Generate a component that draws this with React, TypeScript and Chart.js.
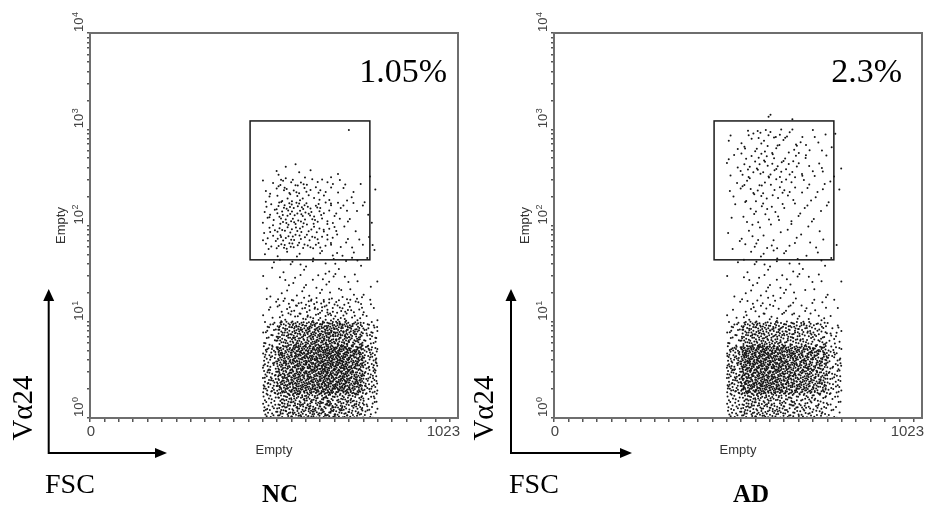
import React, { useEffect, useRef } from "react";
import { Chart, registerables } from "chart.js";

Chart.register(...registerables);

// ---- data ----
// FSC bins (linear channel, 0..1023) and Vα24 bins (log10 decades)
const xBinEdges = [480, 520, 560, 600, 640, 680, 720, 760, 800];
const yBinLogEdges = [0, 0.25, 0.5, 0.75, 1, 1.25, 1.5, 1.75, 2, 2.25, 2.5, 2.75, 3, 3.25];

// dot counts per cell, row = Vα24 bin (bottom → top), column = FSC bin
const ncCounts = [
  [28, 50, 55, 55, 58, 52, 44, 22],
  [40, 75, 85, 90, 100, 95, 80, 38],
  [34, 75, 90, 95, 105, 105, 85, 38],
  [22, 50, 65, 70, 76, 70, 55, 26],
  [6, 15, 18, 22, 24, 20, 15, 6],
  [3, 5, 6, 6, 7, 6, 5, 3],
  [3, 5, 5, 4, 5, 5, 4, 2],
  [12, 20, 18, 15, 12, 6, 4, 2],
  [12, 22, 22, 16, 12, 7, 4, 3],
  [6, 14, 14, 10, 8, 5, 3, 1],
  [1, 2, 2, 1, 1, 1, 0, 1],
  [0, 0, 0, 0, 0, 1, 0, 0],
  [0, 0, 0, 0, 0, 0, 0, 0],
];
const adCounts = [
  [26, 46, 46, 42, 38, 33, 28, 15],
  [45, 88, 92, 88, 78, 70, 60, 27],
  [45, 95, 100, 92, 84, 76, 64, 27],
  [20, 50, 55, 50, 44, 38, 30, 13],
  [4, 9, 11, 10, 9, 8, 7, 3],
  [2, 5, 6, 6, 5, 4, 4, 2],
  [1, 4, 5, 5, 4, 3, 3, 1],
  [3, 5, 5, 4, 4, 3, 3, 1],
  [2, 6, 7, 6, 5, 4, 3, 1],
  [4, 8, 9, 8, 7, 5, 4, 2],
  [6, 10, 12, 11, 9, 7, 5, 2],
  [3, 8, 10, 10, 8, 6, 4, 2],
  [0, 0, 1, 1, 1, 0, 0, 0],
];

const gateX = [445, 778];
const gateY = [44, 1220];
const gatePercents = ["1.05%", "2.3%"];
const groupNames = ["NC", "AD"];
const yTickValues = [1, 10, 100, 1000, 10000];
const yTickExponents = ["0", "1", "2", "3", "4"];
const xTickValues = [0, 1023];
const xTickLabels = ["0", "1023"];
const xMin = 0;
const xMax = 1023;
const yMin = 1;
const yMax = 10000;
const axisTitle = "Empty";
const markerLabel = "Vα24";
const scatterLabel = "FSC";

// ---- layout (canvas-local positions) ----
const W = 463;
const H = 508;
const panelLayout = [
  { left: 0, padLeft: 85, padRight: 5, pctRight: 447, nameX: 280, vaX: 32, arrowX: 48.7, arrowTipX: 167, fscX: 45 },
  { left: 463, padLeft: 86, padRight: 4, pctRight: 439, nameX: 288, vaX: 30, arrowX: 48, arrowTipX: 169, fscX: 46 },
];

const SANS = '"Liberation Sans", Arial, sans-serif';
const SERIF = '"Liberation Serif", "Times New Roman", serif';

// deterministic low-discrepancy placement of the counted dots inside each cell
function halton(i: number, b: number) {
  let f = 1;
  let r = 0;
  while (i > 0) {
    f /= b;
    r += f * (i % b);
    i = Math.floor(i / b);
  }
  return r;
}

function cellPoints(counts: number[][]) {
  const pts: { x: number; y: number }[] = [];
  counts.forEach((row, r) =>
    row.forEach((n, c) => {
      const start = 1 + r * 131 + c * 57;
      for (let i = 0; i < n; i++) {
        const u = halton(start + i, 2);
        const v = halton(start + i, 3);
        pts.push({
          x: xBinEdges[c] + u * (xBinEdges[c + 1] - xBinEdges[c]),
          y: Math.pow(10, yBinLogEdges[r] + v * (yBinLogEdges[r + 1] - yBinLogEdges[r])),
        });
      }
    })
  );
  return pts;
}

function makeDecor(idx: number) {
  const L = panelLayout[idx];
  return {
    id: "flowDecor" + idx,
    afterDraw(chart: any) {
      const ctx = chart.ctx as CanvasRenderingContext2D;
      const xs = chart.scales.x;
      const ys = chart.scales.y;
      const a = chart.chartArea;
      ctx.save();

      // frame
      ctx.strokeStyle = "#6e6e6e";
      ctx.lineWidth = 2;
      ctx.strokeRect(a.left, a.top, a.right - a.left, a.bottom - a.top);

      // gate
      const gx1 = xs.getPixelForValue(gateX[0]);
      const gx2 = xs.getPixelForValue(gateX[1]);
      const gy1 = ys.getPixelForValue(gateY[1]);
      const gy2 = ys.getPixelForValue(gateY[0]);
      ctx.strokeStyle = "#1a1a1a";
      ctx.lineWidth = 1.5;
      ctx.strokeRect(gx1, gy1, gx2 - gx1, gy2 - gy1);

      // percentage
      ctx.fillStyle = "#000";
      ctx.font = `34px ${SERIF}`;
      ctx.textAlign = "right";
      ctx.textBaseline = "alphabetic";
      ctx.fillText(gatePercents[idx], L.pctRight, 82);

      // y tick labels (rotated, 10^n)
      ctx.fillStyle = "#444";
      yTickValues.forEach((v, i) => {
        const y = ys.getPixelForValue(v);
        ctx.save();
        ctx.translate(a.left - 7, y);
        ctx.rotate(-Math.PI / 2);
        ctx.textAlign = "left";
        ctx.textBaseline = "alphabetic";
        ctx.font = `13px ${SANS}`;
        ctx.fillText("10", 1, 0);
        const w = ctx.measureText("10").width;
        ctx.font = `9px ${SANS}`;
        ctx.fillText(yTickExponents[i], 1 + w + 0.5, -5);
        ctx.restore();
      });

      // x tick labels
      ctx.font = `15px ${SANS}`;
      ctx.textBaseline = "middle";
      xTickValues.forEach((v, i) => {
        const x = xs.getPixelForValue(v);
        if (i === xTickValues.length - 1) {
          ctx.textAlign = "right";
          ctx.fillText(xTickLabels[i], x + 2, 432);
        } else {
          ctx.textAlign = "center";
          ctx.fillText(xTickLabels[i], x + 1, 432);
        }
      });

      // axis titles
      ctx.fillStyle = "#333";
      ctx.font = `13px ${SANS}`;
      ctx.textAlign = "center";
      ctx.textBaseline = "middle";
      ctx.fillText(axisTitle, (a.left + a.right) / 2, 450);
      ctx.save();
      ctx.translate(a.left - 25, (a.top + a.bottom) / 2);
      ctx.rotate(-Math.PI / 2);
      ctx.textBaseline = "alphabetic";
      ctx.fillText(axisTitle, 0, 0);
      ctx.restore();

      // Vα24 rotated label
      ctx.fillStyle = "#000";
      ctx.save();
      ctx.translate(L.vaX, 408);
      ctx.rotate(-Math.PI / 2);
      ctx.font = `29px ${SERIF}`;
      ctx.textAlign = "center";
      ctx.textBaseline = "alphabetic";
      ctx.fillText(markerLabel, 0, 0);
      ctx.restore();

      // arrows
      const ax = L.arrowX;
      const ay = 453;
      ctx.strokeStyle = "#000";
      ctx.lineWidth = 2;
      ctx.beginPath();
      ctx.moveTo(ax, ay);
      ctx.lineTo(ax, 299);
      ctx.moveTo(ax - 1, ay);
      ctx.lineTo(L.arrowTipX - 10, ay);
      ctx.stroke();
      ctx.beginPath();
      ctx.moveTo(ax, 289);
      ctx.lineTo(ax - 5.5, 301);
      ctx.lineTo(ax + 5.5, 301);
      ctx.closePath();
      ctx.fill();
      ctx.beginPath();
      ctx.moveTo(L.arrowTipX, ay);
      ctx.lineTo(L.arrowTipX - 12, ay - 5);
      ctx.lineTo(L.arrowTipX - 12, ay + 5);
      ctx.closePath();
      ctx.fill();

      // FSC
      ctx.font = `28px ${SERIF}`;
      ctx.textAlign = "left";
      ctx.textBaseline = "alphabetic";
      ctx.fillText(scatterLabel, L.fscX, 493);

      // group name
      ctx.font = `bold 25px ${SERIF}`;
      ctx.textAlign = "center";
      ctx.fillText(groupNames[idx], L.nameX, 502);

      ctx.restore();
    },
  };
}

function makeConfig(idx: number): any {
  const L = panelLayout[idx];
  const counts = idx === 0 ? ncCounts : adCounts;
  const xTicks: number[] = [];
  for (let v = 0; v <= 1000; v += 40) xTicks.push(v);
  const yTicks: number[] = [];
  for (let k = 0; k < 4; k++) for (let m = 1; m <= 9; m++) yTicks.push(m * Math.pow(10, k));
  yTicks.push(10000);
  return {
    type: "scatter",
    data: {
      datasets: [
        {
          data: cellPoints(counts),
          pointRadius: 1.0,
          pointHoverRadius: 1.0,
          pointBackgroundColor: "#151515",
          pointBorderWidth: 0,
        },
      ],
    },
    options: {
      responsive: false,
      animation: false,
      events: [],
      layout: { padding: { left: L.padLeft, right: L.padRight, top: 33, bottom: 85 } },
      plugins: { legend: { display: false }, tooltip: { enabled: false } },
      scales: {
        x: {
          type: "linear",
          position: "bottom",
          min: xMin,
          max: xMax,
          afterBuildTicks: (s: any) => {
            s.ticks = xTicks.map((v) => ({ value: v }));
          },
          afterFit: (s: any) => {
            s.height = 5;
          },
          ticks: { display: false },
          grid: { drawOnChartArea: false, drawTicks: true, tickLength: 4, color: "#555", lineWidth: 1.5 },
          border: { display: false },
        },
        y: {
          type: "logarithmic",
          position: "left",
          min: yMin,
          max: yMax,
          afterBuildTicks: (s: any) => {
            s.ticks = yTicks.map((v) => ({ value: v }));
          },
          afterFit: (s: any) => {
            s.width = 5;
          },
          ticks: { display: false },
          grid: { drawOnChartArea: false, drawTicks: true, tickLength: 3, color: "#555", lineWidth: 1.5 },
          border: { display: false },
        },
      },
    },
    plugins: [makeDecor(idx)],
  };
}

function Panel({ idx }: { idx: number }) {
  const ref = useRef<HTMLCanvasElement | null>(null);
  useEffect(() => {
    if (!ref.current) return;
    const chart = new Chart(ref.current, makeConfig(idx));
    return () => chart.destroy();
  }, [idx]);
  return (
    <canvas
      ref={ref}
      width={W}
      height={H}
      style={{ position: "absolute", left: panelLayout[idx].left, top: 0, width: W, height: H }}
    />
  );
}

export default function App() {
  return (
    <div style={{ position: "fixed", left: 0, top: 0, width: 926, height: 508, background: "#fff", overflow: "hidden" }}>
      <Panel idx={0} />
      <Panel idx={1} />
    </div>
  );
}
